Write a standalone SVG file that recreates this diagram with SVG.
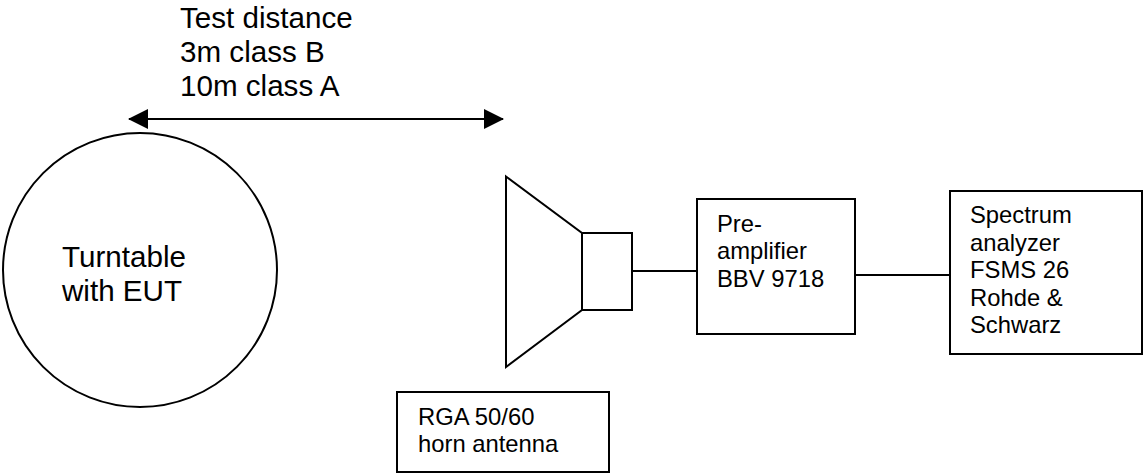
<svg xmlns="http://www.w3.org/2000/svg" width="1143" height="473" viewBox="0 0 1143 473">
<style>
.s{fill:#fff;stroke:#000;stroke-width:2}
.l{fill:none;stroke:#000;stroke-width:2}
.t{font-family:"Liberation Sans",Arial,sans-serif;fill:#000}
.a{font-size:29.6px}
.b{font-size:23.8px}
</style>
<defs><marker id="h" viewBox="0 0 20 20" refX="19" refY="10" markerWidth="20" markerHeight="20" markerUnits="userSpaceOnUse" orient="auto-start-reverse"><path d="M0 0L20 10L0 20Z" fill="#000"/></marker></defs>
<rect width="1143" height="473" fill="#fff"/>
<g id="connectors">
<line class="l" x1="129" y1="119" x2="503" y2="119" marker-start="url(#h)" marker-end="url(#h)"/>
<line class="l" x1="632" y1="271" x2="697" y2="271"/>
<line class="l" x1="855" y1="275" x2="950" y2="275"/>
</g>
<g id="distance-label"><text class="t a" x="180" y="28">Test distance</text><text class="t a" x="180" y="62">3m class B</text><text class="t a" x="180" y="96">10m class A</text></g>
<g id="turntable"><circle class="s" cx="140" cy="270" r="137"/><text class="t a" x="62" y="267">Turntable</text><text class="t a" x="62" y="301">with EUT</text></g>
<g id="horn"><path class="s" d="M506 176.500L582 233V310L506 367Z"/><rect class="s" x="582" y="233" width="50" height="77"/></g>
<g id="preamplifier"><rect class="s" x="697" y="199" width="158" height="135"/><text class="t b" x="717" y="232">Pre-</text><text class="t b" x="717" y="259">amplifier</text><text class="t b" x="717" y="287">BBV 9718</text></g>
<g id="spectrum-analyzer"><rect class="s" x="950" y="191" width="192" height="163"/><text class="t b" x="970" y="223">Spectrum</text><text class="t b" x="970" y="251">analyzer</text><text class="t b" x="970" y="278">FSMS 26</text><text class="t b" x="970" y="306">Rohde &amp;</text><text class="t b" x="970" y="333">Schwarz</text></g>
<g id="antenna-label"><rect class="s" x="397" y="392" width="212" height="80"/><text class="t b" x="418" y="425">RGA 50/60</text><text class="t b" x="418" y="452">horn antenna</text></g>
</svg>
